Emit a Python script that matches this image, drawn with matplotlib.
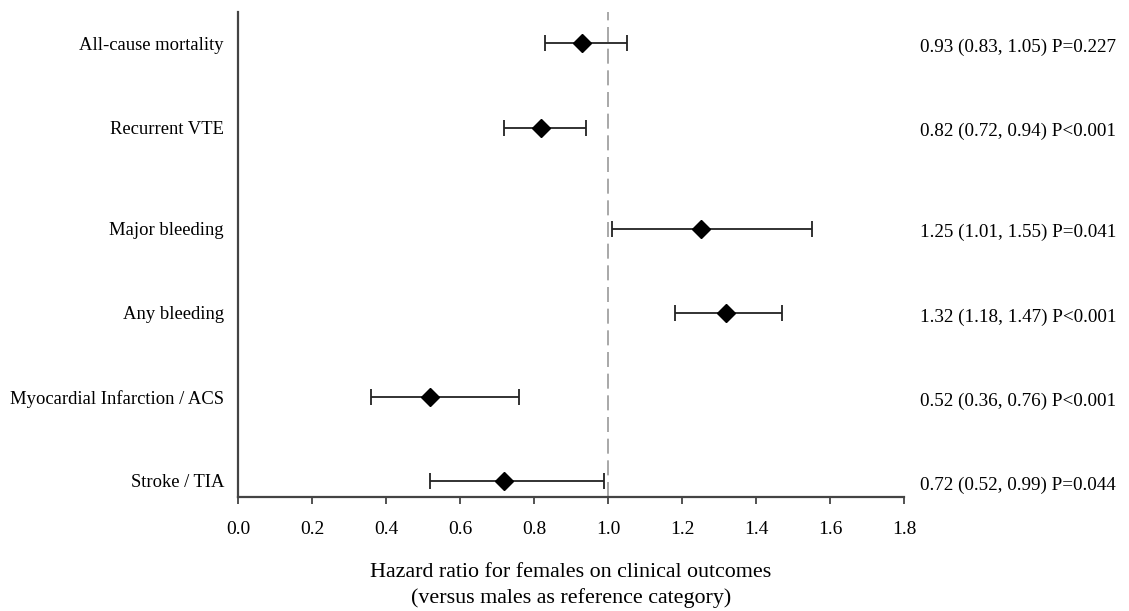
import numpy as np
from matplotlib import pyplot as plt

plt.rcParams['font.family'] = ['Liberation Serif', 'DejaVu Serif']

# data
outcomes = ['All-cause mortality', 'Recurrent VTE', 'Major bleeding',
            'Any bleeding', 'Myocardial Infarction / ACS', 'Stroke / TIA']
hr = [0.93, 0.82, 1.25, 1.32, 0.52, 0.72]
lower = [0.83, 0.72, 1.01, 1.18, 0.36, 0.52]
upper = [1.05, 0.94, 1.55, 1.47, 0.76, 0.99]
pvals = ['P=0.227', 'P<0.001', 'P=0.041', 'P<0.001', 'P<0.001', 'P=0.044']
ypos = [6.2, 5.2, 4.0, 3.0, 2.0, 1.0]
xticks = [0.0, 0.2, 0.4, 0.6, 0.8, 1.0, 1.2, 1.4, 1.6, 1.8]

fig = plt.figure(figsize=(11.29, 6.11), dpi=100)
ax = fig.add_axes([0.2108, 0.1866, 0.59, 0.7934])

hr = np.array(hr)
err = [hr - np.array(lower), np.array(upper) - hr]
ax.axvline(1.0, color='#999999', lw=1.2, dashes=(9, 4), zorder=1)
ax.errorbar(hr, ypos, xerr=err, fmt='D', color='black', ecolor='#222222',
            markersize=9.5, elinewidth=1.3, capsize=6, capthick=1.3, zorder=3)

for y, h, lo, up, p in zip(ypos, hr, lower, upper, pvals):
    ax.text(1.024, y - 0.05, f'{h:.2f} ({lo:.2f}, {up:.2f}) {p}',
            transform=ax.get_yaxis_transform(), ha='left', va='center',
            fontsize=13.8)

ax.set_xlim(0, 1.8)
ax.set_ylim(0.81, 6.57)
ax.set_xticks(xticks)
ax.set_xticklabels([f'{t:.1f}' for t in xticks], fontsize=14)
ax.set_yticks(ypos)
ax.set_yticklabels(outcomes, fontsize=13.4)
ax.tick_params(axis='y', length=0, pad=10)
ax.tick_params(axis='x', length=5, width=1.3, color='#444444', pad=12)
ax.spines['top'].set_visible(False)
ax.spines['right'].set_visible(False)
for s in ['left', 'bottom']:
    ax.spines[s].set_linewidth(1.6)
    ax.spines[s].set_color('#444444')
ax.set_xlabel('Hazard ratio for females on clinical outcomes\n(versus males as reference category)',
              fontsize=15.8, labelpad=18, linespacing=1.45)

plt.savefig('out.png', dpi=100)
